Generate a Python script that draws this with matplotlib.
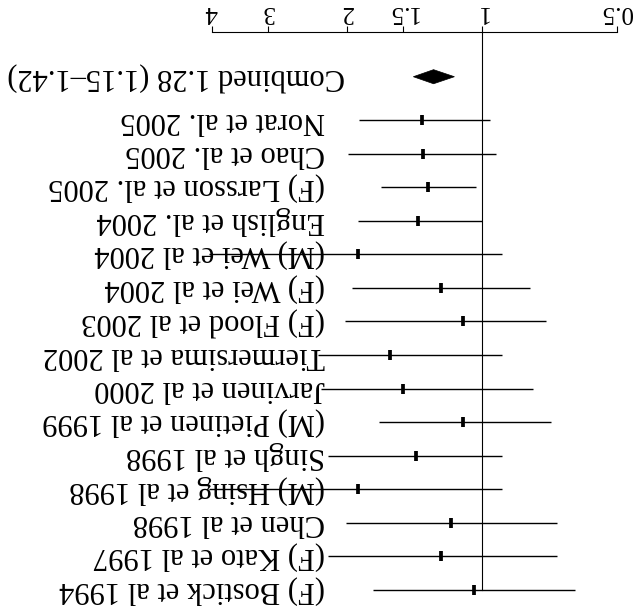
import matplotlib.pyplot as plt
from matplotlib.ticker import NullLocator
from matplotlib.patches import Polygon

# study rows from the bottom of the picture up
studies = ["(F) Bostick et al 1994", "(F) Kato et al 1997", "Chen et al 1998",
           "(M) Hsing et al 1998", "Singh et al 1998", "(M) Pietinen et al 1999",
           "Jarvinen et al 2000", "Tiermersima et al 2002", "(F) Flood et al 2003",
           "(F) Wei et al 2004", "(M) Wei et al 2004", "English et al. 2004",
           "(F) Larsson et al. 2005", "Chao et al. 2005", "Norat et al. 2005"]
rr = [1.04, 1.23, 1.17, 1.89, 1.40, 1.10, 1.50, 1.60, 1.10, 1.23, 1.89, 1.39, 1.32, 1.35, 1.36]
lower = [0.62, 0.68, 0.68, 0.90, 0.90, 0.70, 0.77, 0.90, 0.72, 0.78, 0.90, 1.00, 1.03, 0.93, 0.96]
upper = [1.75, 2.20, 2.01, 4.05, 2.20, 1.69, 2.28, 2.32, 2.02, 1.95, 4.05, 1.89, 1.68, 1.99, 1.88]

combined_rr = 1.28
combined_lo = 1.15
combined_hi = 1.42

tick_vals = [0.5, 1, 1.5, 2, 3, 4]
tick_labels = ["0.5", "1", "1.5", "2", "3", "4"]

plt.rcParams['font.family'] = ['Liberation Serif', 'DejaVu Serif']

fig = plt.figure(figsize=(6.38, 6.14), dpi=100)
ax = fig.add_axes([0, 0, 1, 582 / 614])
ax.set_xscale('log')
ax.set_xlim(11.86, 0.448)   # reversed, picture is upside down
ax.set_ylim(-0.715, 16.622)

rows = list(range(len(studies)))
combined_row = 15.29

# reference line at 1
ax.plot([1, 1], [0, 16.622], color='black', lw=0.8, clip_on=False)

# confidence intervals and point estimates
ax.hlines(rows, lower, upper, color='black', lw=1.0)
ax.plot(rr, rows, linestyle='none', marker='|', markersize=6.7,
        markeredgewidth=2.7, color='black')

# combined diamond
h = 0.21
diamond = Polygon([(combined_lo, combined_row), (combined_rr, combined_row + h),
                   (combined_hi, combined_row), (combined_rr, combined_row - h)],
                  closed=True, facecolor='black', edgecolor='black', lw=0.5)
ax.add_patch(diamond)

# labels, upside down
trans = ax.get_yaxis_transform()
for r, name in zip(rows, studies):
    ax.text(0.5094, r, name, transform=trans, rotation=180, fontsize=22,
            ha='right', va='center')
ax.text(0.540, combined_row,
        f"Combined {combined_rr:.2f} ({combined_lo:.2f}\u2013{combined_hi:.2f})",
        transform=trans, rotation=180, fontsize=22, ha='right', va='center')

# axis on top
for side in ['left', 'right', 'bottom']:
    ax.spines[side].set_visible(False)
ax.spines['top'].set_bounds(0.5, 4)
ax.spines['top'].set_linewidth(0.8)
ax.xaxis.tick_top()
ax.set_xticks(tick_vals)
ax.set_xticklabels(tick_labels)
ax.xaxis.set_minor_locator(NullLocator())
ax.tick_params(axis='x', direction='out', length=4.3, width=0.8,
               labelsize=18, labelrotation=180, pad=2.5)
ax.set_yticks([])

fig.savefig("out.png", dpi=100)
